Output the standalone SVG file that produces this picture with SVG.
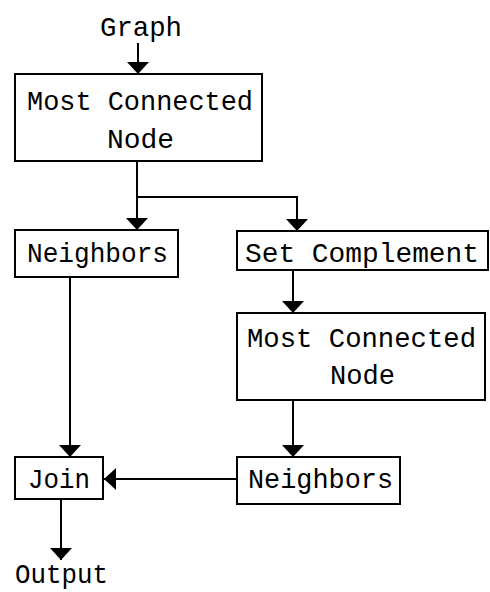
<svg xmlns="http://www.w3.org/2000/svg" width="490" height="592" viewBox="0 0 490 592">
<style>
.box{fill:#fff;stroke:#000;stroke-width:2}
.lbl{font-family:"Liberation Mono","DejaVu Sans Mono",monospace;font-size:28px;fill:#000}
.conn{fill:none;stroke:#000;stroke-width:2;marker-end:url(#arr)}
</style>
<defs>
<marker id="arr" viewBox="0 -11 12 22" refX="12" refY="0" markerWidth="12" markerHeight="22" markerUnits="userSpaceOnUse" orient="auto">
<path d="M0,-11 L12,0 L0,11 z" fill="#000"/>
</marker>
</defs>
<rect width="490" height="592" fill="#fff"/>
<g id="connectors">
<path class="conn" d="M138,43 L138,74"/>
<path class="conn" d="M137,161 L137,230"/>
<path class="conn" d="M137,197 L297,197 L297,231"/>
<path class="conn" d="M293,270 L293,313"/>
<path class="conn" d="M293,400 L293,457"/>
<path class="conn" d="M70,277 L70,457"/>
<path class="conn" d="M237,479 L104,479"/>
<path class="conn" d="M61,499 L61,560"/>
</g>
<g id="graph"><text class="lbl" x="100" y="36" textLength="82" lengthAdjust="spacingAndGlyphs">Graph</text></g>
<g id="mcn1">
<rect class="box" x="15" y="74" width="247" height="87"/>
<text class="lbl" x="27" y="110" textLength="226" lengthAdjust="spacingAndGlyphs">Most Connected</text>
<text class="lbl" x="107" y="148" textLength="67" lengthAdjust="spacingAndGlyphs">Node</text>
</g>
<g id="neighbors1">
<rect class="box" x="15" y="230" width="163" height="47"/>
<text class="lbl" x="27" y="262" textLength="141" lengthAdjust="spacingAndGlyphs">Neighbors</text>
</g>
<g id="setcomp">
<rect class="box" x="237" y="231" width="251" height="39"/>
<text class="lbl" x="245" y="262" textLength="234" lengthAdjust="spacingAndGlyphs">Set Complement</text>
</g>
<g id="mcn2">
<rect class="box" x="237" y="313" width="248" height="87"/>
<text class="lbl" x="247" y="347" textLength="229" lengthAdjust="spacingAndGlyphs">Most Connected</text>
<text class="lbl" x="330" y="384" textLength="65" lengthAdjust="spacingAndGlyphs">Node</text>
</g>
<g id="neighbors2">
<rect class="box" x="237" y="457" width="163" height="47"/>
<text class="lbl" x="248" y="488" textLength="145" lengthAdjust="spacingAndGlyphs">Neighbors</text>
</g>
<g id="join">
<rect class="box" x="15" y="457" width="88" height="42"/>
<text class="lbl" x="28" y="488" textLength="62" lengthAdjust="spacingAndGlyphs">Join</text>
</g>
<g id="output"><text class="lbl" x="15" y="583" textLength="93" lengthAdjust="spacingAndGlyphs">Output</text></g>
</svg>
